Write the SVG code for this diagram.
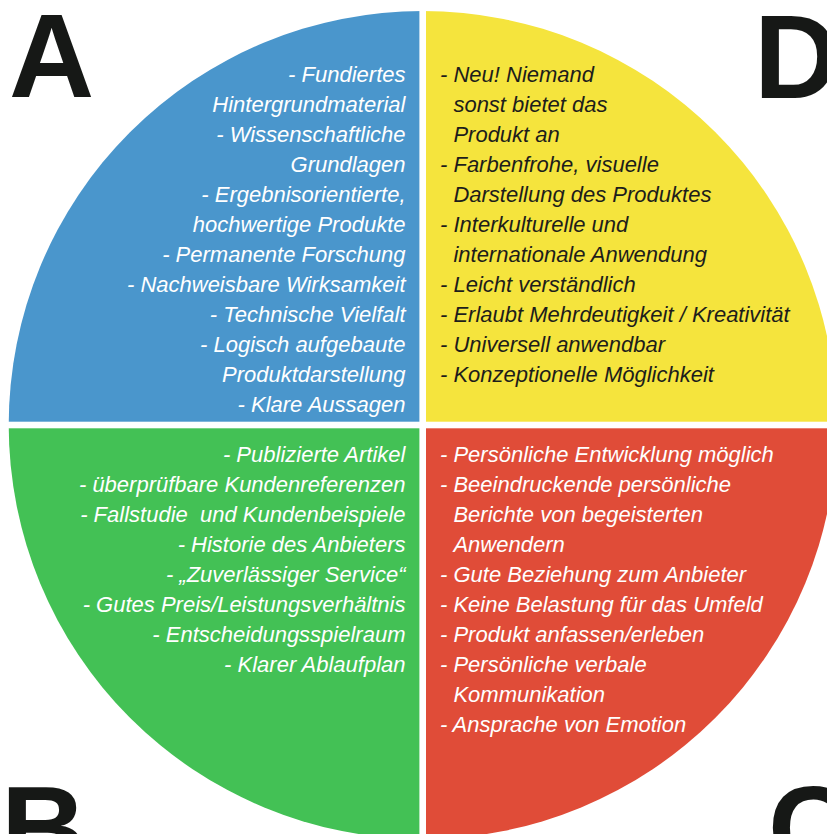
<svg xmlns="http://www.w3.org/2000/svg" width="827" height="834" viewBox="0 0 827 834">
<style>
.t{font-family:"Liberation Sans",Arial,sans-serif;font-style:italic;font-size:22px}
.w{fill:#ffffff}
.k{fill:#1d1d1b}
.e{text-anchor:end}
.L{font-family:"Liberation Sans",Arial,sans-serif;font-weight:bold;font-size:118px;fill:#161816}
</style>
<defs>
<clipPath id="circ"><circle cx="422.7" cy="425" r="414"/></clipPath>
</defs>
<rect width="827" height="834" fill="#ffffff"/>
<g id="quadrant-A">
<rect x="0" y="0" width="419.4" height="421.7" fill="#4a96cc" clip-path="url(#circ)"/>
<text class="L" x="9" y="97">A</text>
<g class="t w e">
<text x="405.5" y="81.5">- Fundiertes</text>
<text x="405.5" y="111.5">Hintergrundmaterial</text>
<text x="405.5" y="141.5">- Wissenschaftliche</text>
<text x="405.5" y="171.5">Grundlagen</text>
<text x="405.5" y="201.5">- Ergebnisorientierte,</text>
<text x="405.5" y="231.5">hochwertige Produkte</text>
<text x="405.5" y="261.5">- Permanente Forschung</text>
<text x="405.5" y="291.5">- Nachweisbare Wirksamkeit</text>
<text x="405.5" y="321.5">- Technische Vielfalt</text>
<text x="405.5" y="351.5">- Logisch aufgebaute</text>
<text x="405.5" y="381.5">Produktdarstellung</text>
<text x="405.5" y="411.5">- Klare Aussagen</text>
</g>
</g>
<g id="quadrant-D">
<rect x="426" y="0" width="401" height="421.7" fill="#f5e43d" clip-path="url(#circ)"/>
<text class="L" x="754" y="97.5">D</text>
<g class="t k">
<text x="440" y="81.5">- Neu! Niemand</text>
<text x="453.4" y="111.5">sonst bietet das</text>
<text x="453.4" y="141.5">Produkt an</text>
<text x="440" y="171.5">- Farbenfrohe, visuelle</text>
<text x="453.4" y="201.5">Darstellung des Produktes</text>
<text x="440" y="231.5">- Interkulturelle und</text>
<text x="453.4" y="261.5">internationale Anwendung</text>
<text x="440" y="291.5">- Leicht verständlich</text>
<text x="440" y="321.5">- Erlaubt Mehrdeutigkeit / Kreativität</text>
<text x="440" y="351.5">- Universell anwendbar</text>
<text x="440" y="381.5">- Konzeptionelle Möglichkeit</text>
</g>
</g>
<g id="quadrant-B">
<rect x="0" y="428.3" width="419.4" height="406" fill="#43c155" clip-path="url(#circ)"/>
<text class="L" x="1" y="869">B</text>
<g class="t w e">
<text x="405.5" y="462.3">- Publizierte Artikel</text>
<text x="405.5" y="492.3">- überprüfbare Kundenreferenzen</text>
<text x="405.5" y="522.3" style="white-space:pre">- Fallstudie  und Kundenbeispiele</text>
<text x="405.5" y="552.3">- Historie des Anbieters</text>
<text x="405.5" y="582.3">- „Zuverlässiger Service“</text>
<text x="405.5" y="612.3">- Gutes Preis/Leistungsverhältnis</text>
<text x="405.5" y="642.3">- Entscheidungsspielraum</text>
<text x="405.5" y="672.3">- Klarer Ablaufplan</text>
</g>
</g>
<g id="quadrant-C">
<rect x="426" y="428.3" width="401" height="406" fill="#e04c38" clip-path="url(#circ)"/>
<text class="L" x="768" y="869">C</text>
<g class="t w">
<text x="440" y="462.3">- Persönliche Entwicklung möglich</text>
<text x="440" y="492.3">- Beeindruckende persönliche</text>
<text x="453.4" y="522.3">Berichte von begeisterten</text>
<text x="453.4" y="552.3">Anwendern</text>
<text x="440" y="582.3">- Gute Beziehung zum Anbieter</text>
<text x="440" y="612.3">- Keine Belastung für das Umfeld</text>
<text x="440" y="642.3">- Produkt anfassen/erleben</text>
<text x="440" y="672.3">- Persönliche verbale</text>
<text x="453.4" y="702.3">Kommunikation</text>
<text x="440" y="732.3">- Ansprache von Emotion</text>
</g>
</g>
<g id="connectors"/>
</svg>
